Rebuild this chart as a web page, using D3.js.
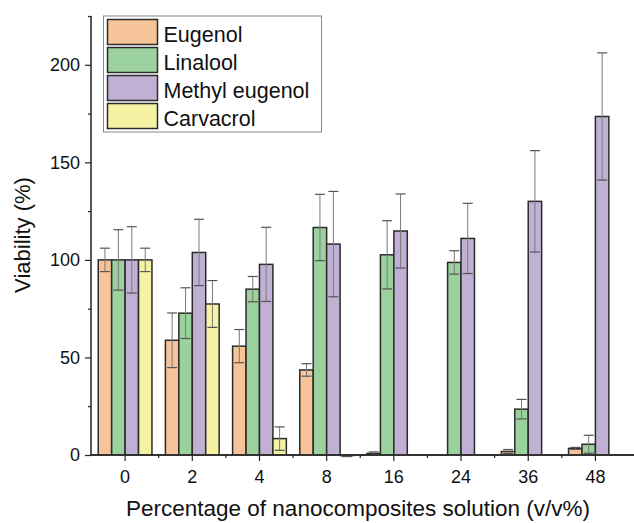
<!DOCTYPE html>
<html>
<head>
<meta charset="utf-8">
<script src="https://cdn.jsdelivr.net/npm/d3@7"></script>
<style>
  body { margin: 0; background: #fff; }
  svg { display: block; font-family: Arial, "Liberation Sans", sans-serif; }
  .tick text { font-size: 18px; fill: #111; }
</style>
</head>
<body>
<svg width="634" height="523"></svg>
<script>
const categories = ['0', '2', '4', '8', '16', '24', '36', '48'];
const seriesNames = ['Eugenol', 'Linalool', 'Methyl eugenol', 'Carvacrol'];
const eugenol = [100, 58.8, 55.8, 43.6, 0.8, 0, 1.8, 3.4];
const eugenolErr = [6, 14, 8.5, 3.2, 0.8, 0, 1, 0.5];
const linalool = [100, 72.7, 85, 116.6, 102.6, 98.7, 23.5, 5.5];
const linaloolErr = [15.5, 13, 6.5, 17, 17.5, 6, 5, 4.6];
const methyl = [100, 103.8, 97.7, 108.1, 114.8, 111, 130, 173.5];
const methylErr = [17, 17, 19, 27, 19, 18, 26, 32.6];
const carvacrol = [100, 77.4, 8.4, -0.3, 0, 0, 0, 0];
const carvacrolErr = [6, 12, 6, 0.5, 0, 0, 0, 0];
const colors = ['#F6C498', '#9AD19C', '#C0B0D4', '#F5F2A4'];

const values = [eugenol, linalool, methyl, carvacrol];
const errors = [eugenolErr, linaloolErr, methylErr, carvacrolErr];

const svg = d3.select('svg');

const x0 = 91.5, x1 = 629, yTop = 16, yBottom = 455;

const xScale = d3.scaleBand()
  .domain(categories)
  .range([x0, x1])
  .paddingInner(0)
  .paddingOuter(0);

const xSub = d3.scaleBand()
  .domain(seriesNames)
  .range([0, xScale.bandwidth()])
  .paddingInner(0)
  .paddingOuter(0.5);

const yScale = d3.scaleLinear()
  .domain([0, 225])
  .range([yBottom, yTop]);

// flatten into records for drawing
const records = [];
categories.forEach((c, i) => {
  seriesNames.forEach((s, j) => {
    records.push({ cat: c, series: s, value: values[j][i], err: errors[j][i], color: colors[j] });
  });
});

// bars
svg.append('g').selectAll('rect').data(records)
  .enter().append('rect')
  .attr('x', d => xScale(d.cat) + xSub(d.series))
  .attr('width', xSub.bandwidth())
  .attr('y', d => yScale(Math.max(0, d.value)))
  .attr('height', d => Math.abs(yScale(d.value) - yScale(0)))
  .attr('fill', d => d.color)
  .attr('stroke', '#2b2b2b')
  .attr('stroke-width', 1.5);

// error bars
const eb = svg.append('g').selectAll('g').data(records.filter(d => d.err > 0))
  .enter().append('g')
  .attr('transform', d => `translate(${xScale(d.cat) + xSub(d.series) + xSub.bandwidth() / 2},0)`);

eb.append('line')
  .attr('y1', d => yScale(d.value + d.err))
  .attr('y2', d => yScale(d.value - d.err))
  .attr('stroke', '#7a7a7a')
  .attr('stroke-width', 1);

[1, -1].forEach(sign => {
  eb.append('line')
    .attr('x1', -5).attr('x2', 5)
    .attr('y1', d => yScale(d.value + sign * d.err))
    .attr('y2', d => yScale(d.value + sign * d.err))
    .attr('stroke', '#555')
    .attr('stroke-width', 1.2);
});

// y axis
const yAxis = d3.axisLeft(yScale)
  .tickValues([0, 50, 100, 150, 200])
  .tickSize(6)
  .tickPadding(5);

const yAxisG = svg.append('g')
  .attr('transform', `translate(${x0 - 0.5},0)`)
  .call(yAxis);
yAxisG.select('.domain').attr('d', `M0,${yTop}V${yBottom}`).attr('stroke', '#222').attr('stroke-width', 1.5);
yAxisG.selectAll('.tick line').attr('stroke', '#222').attr('stroke-width', 1.2);

const yMinor = d3.axisLeft(yScale)
  .tickValues([25, 75, 125, 175, 225])
  .tickSize(3)
  .tickFormat('');
const yMinorG = svg.append('g')
  .attr('transform', `translate(${x0 - 0.5},0)`)
  .call(yMinor);
yMinorG.select('.domain').remove();
yMinorG.selectAll('.tick line').attr('stroke', '#222').attr('stroke-width', 1.2);

// x axis
const xAxis = d3.axisBottom(xScale)
  .tickSize(6)
  .tickPadding(9)
  .tickSizeOuter(0);

const xAxisG = svg.append('g')
  .attr('transform', `translate(0,${yBottom})`)
  .call(xAxis);
xAxisG.select('.domain').attr('d', `M${x0 - 1},0H634`).attr('stroke', '#333').attr('stroke-width', 2);
xAxisG.selectAll('.tick line').attr('stroke', '#222').attr('stroke-width', 1.2);

const xMinorG = svg.append('g')
  .attr('transform', `translate(0,${yBottom})`);
xMinorG.selectAll('line').data(categories.slice(1))
  .enter().append('line')
  .attr('x1', d => xScale(d)).attr('x2', d => xScale(d))
  .attr('y1', 0).attr('y2', 3)
  .attr('stroke', '#222')
  .attr('stroke-width', 1.2);

// axis labels
svg.append('text')
  .attr('x', 358)
  .attr('y', 516)
  .attr('text-anchor', 'middle')
  .style('font-size', '22.5px')
  .attr('fill', '#111')
  .text('Percentage of nanocomposites solution (v/v%)');

svg.append('text')
  .attr('transform', 'translate(30,235) rotate(-90)')
  .attr('text-anchor', 'middle')
  .style('font-size', '22px')
  .attr('fill', '#111')
  .text('Viability (%)');

// legend
const legend = svg.append('g');
legend.append('rect')
  .attr('x', 103.5).attr('y', 16)
  .attr('width', 218).attr('height', 116)
  .attr('fill', '#fff')
  .attr('stroke', '#888')
  .attr('stroke-width', 1);

const items = legend.selectAll('g.item').data(seriesNames)
  .enter().append('g')
  .attr('class', 'item')
  .attr('transform', (d, i) => `translate(107.5,${19.5 + i * 28})`);

items.append('rect')
  .attr('width', 50).attr('height', 25)
  .attr('fill', (d, i) => colors[i])
  .attr('stroke', '#2b2b2b')
  .attr('stroke-width', 1.5);

items.append('text')
  .attr('x', 56)
  .attr('y', 22)
  .style('font-size', '21.5px')
  .attr('fill', '#111')
  .text(d => d);
</script>
</body>
</html>
